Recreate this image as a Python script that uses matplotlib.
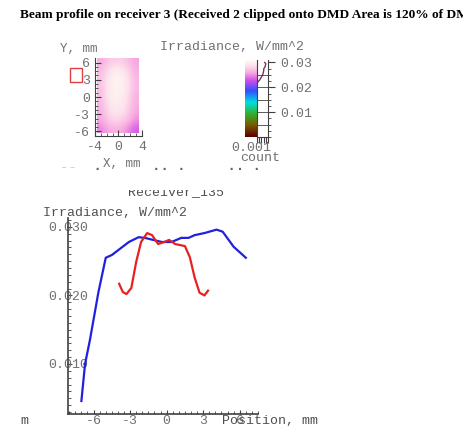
import numpy as np
import matplotlib.pyplot as plt
from matplotlib.colors import LinearSegmentedColormap
from matplotlib.patches import Rectangle
from matplotlib.transforms import Bbox, TransformedBbox

plt.rcParams["axes.unicode_minus"] = False

# Blue profile (horizontal cut)
blue_x = [-7.0, -6.7, -6.3, -5.6, -5.0, -4.5, -3.1, -2.3, -1.8, -0.4, 0.4, 1.2, 1.8, 2.3, 3.1, 4.1, 4.6, 5.5, 6.5]
blue_y = [0.0046, 0.0100, 0.0135, 0.0205, 0.0255, 0.0259, 0.0278, 0.0285, 0.0284, 0.0278, 0.0278, 0.0284,
          0.0284, 0.0288, 0.0291, 0.0296, 0.0293, 0.0271, 0.0255]

# Red profile (vertical cut)
red_x = [-3.9, -3.6, -3.3, -2.9, -2.5, -2.1, -1.6, -1.2, -0.7, -0.2, 0.2, 0.7, 1.5, 1.9, 2.3, 2.7, 3.1, 3.4]
red_y = [0.0217, 0.0205, 0.0202, 0.0211, 0.0249, 0.0278, 0.0291, 0.0288, 0.0275, 0.0278, 0.0281, 0.0275,
         0.0272, 0.0256, 0.0226, 0.0204, 0.0200, 0.0207]

# Irradiance map on the receiver (rows top -> bottom), W/mm^2
irr_map = np.array([
    [0.0262, 0.0276, 0.0280, 0.0274, 0.0258],
    [0.0268, 0.0292, 0.0300, 0.0288, 0.0264],
    [0.0272, 0.0298, 0.0306, 0.0294, 0.0266],
    [0.0270, 0.0296, 0.0304, 0.0296, 0.0268],
    [0.0268, 0.0300, 0.0302, 0.0292, 0.0264],
    [0.0266, 0.0294, 0.0298, 0.0288, 0.0262],
    [0.0262, 0.0288, 0.0292, 0.0284, 0.0258],
    [0.0258, 0.0280, 0.0284, 0.0274, 0.0250],
    [0.0246, 0.0262, 0.0266, 0.0252, 0.0232],
])

# Histogram of the map (irradiance level vs count)
hist_level = [0.0220, 0.0230, 0.0245, 0.0255, 0.0265, 0.0275, 0.0285, 0.0295, 0.0300]
hist_count = [0.05, 0.25, 0.45, 0.55, 0.60, 0.62, 0.75, 0.80, 0.70]

gray = "#707070"
mono = "Liberation Mono"

cmap = LinearSegmentedColormap.from_list("irr", [
    (0.00, "#5a0000"), (0.15, "#7a5a00"), (0.30, "#30b030"), (0.45, "#00e0e0"),
    (0.60, "#3050ff"), (0.74, "#d050e8"), (0.84, "#f8a8e0"), (0.93, "#fde0ec"), (1.00, "#fffbf4")])

W, H = 464, 436
fig = plt.figure(figsize=(W / 100, H / 100), dpi=100)


def box(l, t, r, b):
    return [l / W, 1 - b / H, (r - l) / W, (b - t) / H]


def clip_rows(txt_obj, top, bot):
    txt_obj.set_clip_box(TransformedBbox(Bbox([[0, 1 - bot / H], [1, 1 - top / H]]), fig.transFigure))
    txt_obj.set_clip_on(True)


fig.text(20 / W, 1 - 15 / H,
         "Beam profile on receiver 3 (Received 2 clipped onto DMD Area is 120% of DMD",
         family="Liberation Serif", weight="bold", fontsize=9.6, va="center", ha="left")

# --- map ---
ax_map = fig.add_axes(box(95, 58, 142, 136))
ax_map.imshow(irr_map, cmap=cmap, vmin=0.0, vmax=0.031, extent=[-3.6, 3.5, -6.3, 6.7],
              interpolation="bicubic", aspect="auto")
ax_map.set_xlim(-4, 4)
ax_map.set_ylim(-6.8, 6.8)
for s in ["top", "right"]:
    ax_map.spines[s].set_visible(False)
for s in ["left", "bottom"]:
    ax_map.spines[s].set_color("#404040")
ax_map.set_xticks([-4, 0, 4])
ax_map.set_yticks([-6, -3, 0, 3, 6])
ax_map.set_xticks(np.arange(-4, 4.1, 1), minor=True)
ax_map.set_yticks(np.arange(-6, 6.1, 0.75), minor=True)
ax_map.tick_params(labelsize=9.5, labelcolor=gray, length=4, direction="in", color="#404040")
ax_map.tick_params(which="minor", length=2.5, direction="in", color="#404040")
for lab in ax_map.get_xticklabels() + ax_map.get_yticklabels():
    lab.set_family(mono)
ax_map.text(-0.35, 1.04, "Y, mm", transform=ax_map.transAxes, family=mono, fontsize=9,
            color=gray, ha="center", va="bottom")
ax_map.text(0.57, -0.28, "X, mm", transform=ax_map.transAxes, family=mono, fontsize=9,
            color=gray, ha="center", va="top")
fig.add_artist(Rectangle((70 / W, 1 - 82 / H), 12 / W, 14 / H, transform=fig.transFigure,
                         fill=False, edgecolor="#e04040", linewidth=1))

# --- colour bar ---
ax_cb = fig.add_axes(box(245, 60, 257, 137))
ax_cb.imshow(np.linspace(0.031, 0.0, 100).reshape(-1, 1), cmap=cmap, vmin=0.0, vmax=0.031,
             aspect="auto", extent=[0, 1, 0.0, 0.031])
ax_cb.set_axis_off()

ax_h = fig.add_axes(box(257, 60, 268, 137))
ax_h.plot(hist_count, hist_level, color="#803060", linewidth=1)
ax_h.set_ylim(0.0, 0.031)
ax_h.set_xlim(0, 1)
for y in [0.005, 0.010, 0.015, 0.020, 0.025]:
    ax_h.axhline(y, color="#404040", linewidth=0.6)
for s in ax_h.spines.values():
    s.set_color("#404040")
    s.set_linewidth(0.8)
ax_h.spines["top"].set_visible(False)
ax_h.yaxis.tick_right()
ax_h.set_yticks([0.01, 0.02, 0.03])
ax_h.set_yticklabels(["0.01", "0.02", "0.03"])
ax_h.set_yticks(np.arange(0.0, 0.031, 0.0025), minor=True)
ax_h.set_xticks(np.arange(0, 1.01, 0.2))
ax_h.set_xticklabels([])
ax_h.tick_params(axis="y", labelsize=9.5, labelcolor=gray, length=5, color="#404040")
ax_h.tick_params(axis="y", which="minor", length=2.5, color="#404040")
ax_h.tick_params(axis="x", length=4, direction="out", color="#404040")
for lab in ax_h.get_yticklabels():
    lab.set_family(mono)
fig.text(232 / W, 1 - 47 / H, "Irradiance, W/mm^2", family=mono, fontsize=9.5, color=gray,
         ha="center", va="center")
fig.text(251 / W, 1 - 148 / H, "0.001", family=mono, fontsize=9.5, color=gray, ha="center", va="center")
fig.text(260 / W, 1 - 158 / H, "count", family=mono, fontsize=9.5, color=gray, ha="center", va="center")

# cut-off text rows
t = fig.text(176 / W, 1 - 192 / H, "Receiver_135", family=mono, fontsize=9.5, color="#505050",
             ha="center", va="center")
clip_rows(t, 190, 200)
t = fig.text(60 / W, 1 - 166 / H, "--  .      .. .     .. .", family=mono, fontsize=10,
             color="#606060", ha="left", va="center", weight="bold")
clip_rows(t, 167, 174)

# --- profile plot ---
ax = fig.add_axes(box(68, 218, 258, 414))
ax.plot(blue_x, blue_y, color="#2020e0", linewidth=1.6)
ax.plot(red_x, red_y, color="#e82020", linewidth=1.6)
ax.set_xlim(-8.1, 7.5)
ax.set_ylim(0.0027, 0.0313)
for s in ["top", "right"]:
    ax.spines[s].set_visible(False)
for s in ["left", "bottom"]:
    ax.spines[s].set_color("#404040")
    ax.spines[s].set_linewidth(1.2)
ax.set_xticks([-6, -3, 0, 3, 6])
ax.set_xticklabels(["-6", "-3", "0", "3", "6"])
ax.set_yticks([0.010, 0.020, 0.030])
ax.set_yticklabels(["0.010", "0.020", "0.030"])
ax.set_xticks(np.arange(-8, 7.6, 0.5), minor=True)
ax.set_yticks(np.arange(0.003, 0.0312, 0.001), minor=True)
ax.tick_params(labelsize=9.5, labelcolor=gray, length=3, direction="in", color="#404040", pad=1)
ax.tick_params(which="minor", length=2, direction="in", color="#404040")
ax.tick_params(axis="y", pad=0)
for lab in ax.get_yticklabels():
    lab.set_family(mono)
    lab.set_ha("center")
for lab in ax.get_xticklabels():
    lab.set_family(mono)
fig.text(43 / W, 1 - 213 / H, "Irradiance, W/mm^2", family=mono, fontsize=9.5, color="#505050",
         ha="left", va="center")
fig.text(222 / W, 1 - 421 / H, "Position, mm", family=mono, fontsize=9.5, color="#505050",
         ha="left", va="center")
fig.text(20 / W, 1 - 421 / H, "m", family=mono, fontsize=9.5, color="#505050", ha="left", va="center")

fig.savefig("out.png", dpi=100)
